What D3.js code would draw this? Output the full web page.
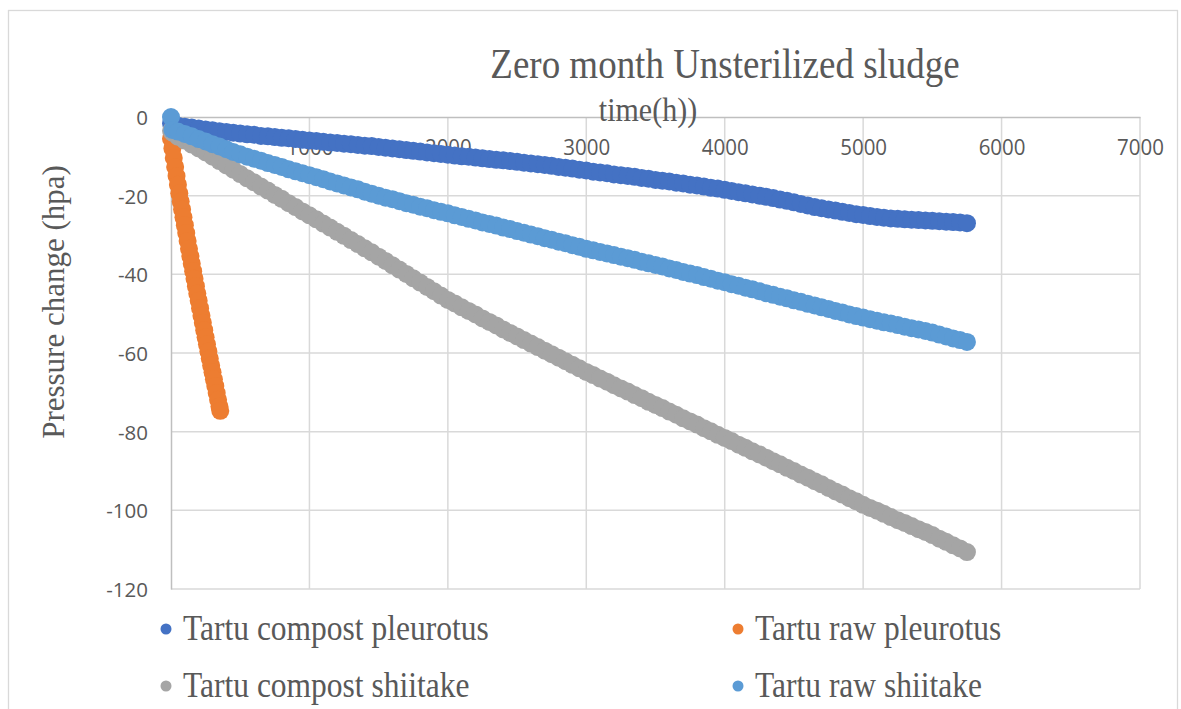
<!DOCTYPE html>
<html>
<head>
<meta charset="utf-8">
<script src="https://cdn.jsdelivr.net/npm/d3@7"></script>
<style>
  html, body { margin: 0; padding: 0; background: #ffffff; }
  svg { display: block; }
</style>
</head>
<body>
<svg id="chart" width="1181" height="709"></svg>
<script>
// ---------------- DATA ----------------
const chartTitle = "Zero month Unsterilized sludge";
const xAxisTitle = "time(h))";
const yAxisTitle = "Pressure change (hpa)";

const seriesNames = ["Tartu compost pleurotus", "Tartu raw pleurotus", "Tartu compost shiitake", "Tartu raw shiitake"];
const seriesColors = ["#4472C4", "#ED7D31", "#A5A5A5", "#5B9BD5"];

const xTicks = [0, 1000, 2000, 3000, 4000, 5000, 6000, 7000];
const yTicks = [0, -20, -40, -60, -80, -100, -120];

// time (h) for the three long-running series
const timeLong = [0, 10, 50, 100, 150, 200, 250, 300, 350, 400, 450, 500, 550, 600, 650, 700, 750, 800, 850, 900, 950,
  1000, 1050, 1100, 1150, 1200, 1250, 1300, 1350, 1400, 1450, 1500, 1550, 1600, 1650, 1700, 1750, 1800, 1850, 1900, 1950,
  2000, 2050, 2100, 2150, 2200, 2250, 2300, 2350, 2400, 2450, 2500, 2550, 2600, 2650, 2700, 2750, 2800, 2850, 2900, 2950,
  3000, 3050, 3100, 3150, 3200, 3250, 3300, 3350, 3400, 3450, 3500, 3550, 3600, 3650, 3700, 3750, 3800, 3850, 3900, 3950,
  4000, 4050, 4100, 4150, 4200, 4250, 4300, 4350, 4400, 4450, 4500, 4550, 4600, 4650, 4700, 4750, 4800, 4850, 4900, 4950,
  5000, 5050, 5100, 5150, 5200, 5250, 5300, 5350, 5400, 5450, 5500, 5550, 5600, 5650, 5700, 5750];

const compostPleurotus = [-1.6, -1.9, -2.2, -2.5, -2.7, -2.9, -3.2, -3.4, -3.6, -3.8, -4.0, -4.2, -4.4, -4.5, -4.8, -4.9, -5.1, -5.3, -5.4, -5.6, -5.8,
  -6.0, -6.1, -6.3, -6.5, -6.6, -6.8, -6.9, -7.1, -7.3, -7.4, -7.6, -7.8, -8.0, -8.2, -8.4, -8.6, -8.8, -9.0, -9.2, -9.4,
  -9.6, -9.8, -10.0, -10.1, -10.3, -10.5, -10.7, -10.9, -11.0, -11.2, -11.4, -11.6, -11.8, -12.0, -12.2, -12.4, -12.7, -12.9, -13.1, -13.4,
  -13.6, -13.9, -14.1, -14.3, -14.6, -14.8, -15.0, -15.2, -15.5, -15.7, -16.0, -16.2, -16.4, -16.7, -16.9, -17.2, -17.4, -17.7, -18.0, -18.2,
  -18.5, -18.8, -19.1, -19.4, -19.7, -20.0, -20.3, -20.6, -21.0, -21.3, -21.7, -22.1, -22.5, -22.9, -23.2, -23.5, -23.8, -24.1, -24.4, -24.7,
  -24.9, -25.2, -25.4, -25.6, -25.8, -25.9, -26.0, -26.1, -26.2, -26.3, -26.4, -26.5, -26.6, -26.7, -26.8, -27.0];

const compostShiitake = [-3.5, -4.0, -5.0, -6.0, -7.0, -8.0, -9.0, -10.1, -11.2, -12.3, -13.4, -14.5, -15.6, -16.6, -17.7, -18.7, -19.8, -20.8, -21.9, -22.9, -24.0,
  -25.0, -26.0, -27.1, -28.1, -29.2, -30.2, -31.3, -32.3, -33.4, -34.4, -35.5, -36.6, -37.7, -38.8, -39.9, -41.0, -42.1, -43.2, -44.3, -45.4,
  -46.5, -47.4, -48.4, -49.3, -50.2, -51.2, -52.1, -53.0, -54.0, -54.9, -55.8, -56.7, -57.6, -58.5, -59.4, -60.3, -61.2, -62.1, -63.0, -63.9,
  -64.8, -65.6, -66.5, -67.3, -68.2, -69.0, -69.8, -70.7, -71.5, -72.4, -73.2, -74.0, -74.9, -75.7, -76.6, -77.4, -78.2, -79.1, -79.9, -80.8,
  -81.6, -82.4, -83.3, -84.1, -85.0, -85.8, -86.6, -87.5, -88.3, -89.2, -90.0, -90.9, -91.7, -92.6, -93.4, -94.3, -95.2, -96.0, -96.9, -97.7,
  -98.6, -99.4, -100.1, -100.9, -101.7, -102.5, -103.2, -104.0, -104.8, -105.5, -106.3, -107.2, -108.0, -108.9, -109.7, -110.6];

const rawShiitake = [0, -3.3, -3.7, -4.3, -4.9, -5.6, -6.2, -6.9, -7.5, -8.2, -8.9, -9.5, -10.1, -10.6, -11.1, -11.7, -12.2, -12.7, -13.3, -13.8, -14.3,
  -14.8, -15.3, -15.8, -16.4, -16.9, -17.4, -17.9, -18.4, -19.0, -19.5, -20.0, -20.5, -20.9, -21.4, -21.9, -22.3, -22.8, -23.2, -23.7, -24.1,
  -24.5, -25.0, -25.4, -25.9, -26.3, -26.8, -27.2, -27.6, -28.1, -28.5, -29.0, -29.4, -29.9, -30.3, -30.8, -31.2, -31.7, -32.1, -32.6, -33.0,
  -33.5, -33.9, -34.3, -34.7, -35.1, -35.5, -35.9, -36.3, -36.8, -37.2, -37.6, -38.0, -38.5, -38.9, -39.4, -39.8, -40.2, -40.7, -41.1, -41.6,
  -42.0, -42.5, -42.9, -43.4, -43.8, -44.3, -44.8, -45.2, -45.7, -46.1, -46.6, -47.0, -47.5, -47.9, -48.4, -48.8, -49.3, -49.7, -50.2, -50.6,
  -51.0, -51.4, -51.8, -52.2, -52.5, -52.9, -53.3, -53.7, -54.0, -54.4, -54.8, -55.3, -55.8, -56.3, -56.7, -57.2];

// time (h) for the short raw pleurotus run
const timeRawPleurotus = [0, 10, 20, 30, 40, 50, 60, 70, 80, 90, 100, 110, 120, 130, 140, 150, 160, 170, 180, 190,
  200, 210, 220, 230, 240, 250, 260, 270, 280, 290, 300, 310, 320, 330, 340, 350, 356];
const rawPleurotus = [-5.5, -8.0, -10.4, -12.7, -15.0, -17.2, -19.4, -21.5, -23.5, -25.5, -27.5, -29.5, -31.5, -33.5, -35.4, -37.3, -39.2, -41.1, -43.0, -44.9,
  -46.7, -48.6, -50.5, -52.3, -54.2, -56.0, -57.8, -59.6, -61.4, -63.2, -64.9, -66.7, -68.4, -70.2, -71.9, -73.6, -74.7];

// ---------------- CHART ----------------
const svg = d3.select("#chart");
const textColor = "#595959";
const gridColor = "#d9d9d9";
const axisColor = "#bfbfbf";
const serif = "Liberation Serif, Times New Roman, serif";
const sans = "Open Sans, Liberation Sans, sans-serif";
const stretch = 1.12; // the reference text is slightly taller than it is wide

const plot = { left: 171, right: 1140, top: 117, bottom: 589 };
const x = d3.scaleLinear().domain([0, 7000]).range([plot.left, plot.right]);
const y = d3.scaleLinear().domain([-120, 0]).range([plot.bottom, plot.top]);

function addText(parent, tx, ty, str, size, anchor, rotate, family, sy) {
  return parent.append("text")
    .attr("transform", `translate(${tx},${ty})` + (rotate ? ` rotate(${rotate})` : "") + ` scale(1,${sy})`)
    .attr("text-anchor", anchor)
    .attr("font-family", family).attr("font-size", size)
    .attr("fill", textColor)
    .text(str);
}

// outer chart border
svg.append("rect")
  .attr("x", 8.5).attr("y", 10.5)
  .attr("width", 1169).attr("height", 720)
  .attr("fill", "#ffffff").attr("stroke", gridColor).attr("stroke-width", 1.3);

// gridlines
const grid = svg.append("g");
grid.selectAll("line.v").data(xTicks.filter(d => d !== 0)).join("line")
  .attr("x1", d => x(d)).attr("x2", d => x(d))
  .attr("y1", y(0)).attr("y2", y(-120))
  .attr("stroke", gridColor).attr("stroke-width", 1.5);
grid.selectAll("line.h").data(yTicks.filter(d => d !== 0)).join("line")
  .attr("x1", x(0)).attr("x2", x(7000))
  .attr("y1", d => y(d)).attr("y2", d => y(d))
  .attr("stroke", gridColor).attr("stroke-width", 1.5);

// axes (lines through zero)
const fmt = d => String(d);
const xAxis = d3.axisTop(x).tickValues(xTicks).tickSize(0).tickFormat(fmt);
const yAxis = d3.axisLeft(y).tickValues(yTicks).tickSize(0).tickFormat(fmt);

const gx = svg.append("g").attr("transform", `translate(0,${y(0)})`).call(xAxis);
gx.select(".domain").attr("stroke", axisColor).attr("stroke-width", 1.5);
gx.selectAll("text")
  .attr("y", 0).attr("dy", 0)
  .attr("transform", `translate(0,38) scale(1,1.05)`)
  .attr("fill", textColor).attr("font-family", sans).attr("font-size", 20.5);

const gy = svg.append("g").attr("transform", `translate(${x(0)},0)`).call(yAxis);
gy.select(".domain").attr("stroke", axisColor).attr("stroke-width", 1.5);
gy.selectAll("text")
  .attr("x", -23).attr("dy", "0.36em")
  .attr("fill", textColor).attr("font-family", sans).attr("font-size", 20.5);

// series
const seriesData = [
  timeLong.map((t, i) => ({ t, v: compostPleurotus[i] })),
  timeRawPleurotus.map((t, i) => ({ t, v: rawPleurotus[i] })),
  timeLong.map((t, i) => ({ t, v: compostShiitake[i] })),
  timeLong.map((t, i) => ({ t, v: rawShiitake[i] }))
];

seriesData.forEach((data, si) => {
  svg.append("g").selectAll("circle").data(data).join("circle")
    .attr("cx", d => x(d.t)).attr("cy", d => y(d.v))
    .attr("r", 9)
    .attr("fill", seriesColors[si]);
});

// titles
addText(svg, 725, 78, chartTitle, 37, "middle", 0, serif, stretch);
addText(svg, 648, 121, xAxisTitle, 30, "middle", 0, serif, stretch);
addText(svg, 64, 302, yAxisTitle, 31, "middle", -90, serif, 1.0);

// legend
const legendPos = [
  { mx: 166, my: 629 },
  { mx: 738, my: 629 },
  { mx: 166, my: 686 },
  { mx: 738, my: 686 }
];
const legend = svg.append("g");
seriesNames.forEach((name, i) => {
  const p = legendPos[i];
  legend.append("circle")
    .attr("cx", p.mx).attr("cy", p.my).attr("r", 5.5)
    .attr("fill", seriesColors[i]);
  addText(legend, p.mx + 17, p.my + 11, name, 31.5, "start", 0, serif, stretch);
});
</script>
</body>
</html>
